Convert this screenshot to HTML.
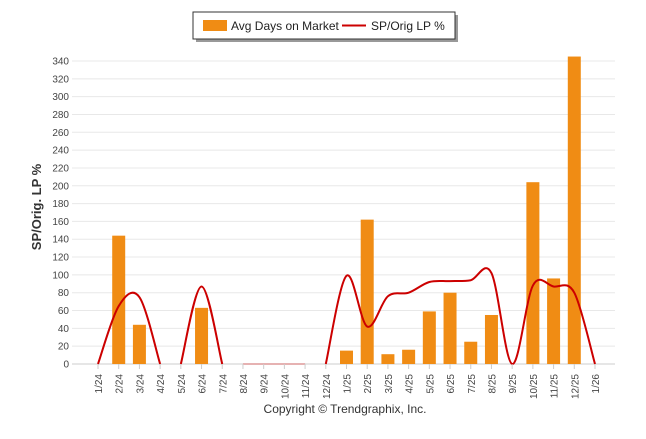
<!DOCTYPE html>
<html><head><meta charset="utf-8"><style>
body{margin:0;background:#fff;width:646px;height:434px;overflow:hidden;font-family:"Liberation Sans",sans-serif}
svg text{font-family:"Liberation Sans",sans-serif}
</style></head><body>
<svg id="c" width="646" height="434">
<g>
<rect x="196" y="15" width="262" height="27" fill="#999"/>
<rect x="193" y="12" width="262" height="27" fill="#fff" stroke="#333" stroke-width="1"/>
<rect x="203" y="20" width="24" height="11" fill="#F08C14"/>
<text x="231" y="30" font-size="12" fill="#222">Avg Days on Market</text>
<line x1="342" y1="25.5" x2="366" y2="25.5" stroke="#cc0000" stroke-width="2"/>
<text x="371" y="30" font-size="12" fill="#222">SP/Orig LP %</text>
</g>
<text transform="translate(41,207) rotate(-90)" text-anchor="middle" font-size="13" font-weight="bold" fill="#333">SP/Orig. LP %</text>
<text x="345" y="413" text-anchor="middle" font-size="12" fill="#333">Copyright © Trendgraphix, Inc.</text>
<g id="grid"></g><g id="bars"></g><g id="lines"></g><g id="axes"></g>
</svg>
<script>
const categories=["1/24","2/24","3/24","4/24","5/24","6/24","7/24","8/24","9/24","10/24","11/24","12/24","1/25","2/25","3/25","4/25","5/25","6/25","7/25","8/25","9/25","10/25","11/25","12/25","1/26"];
const daysOnMarket=[0,144,44,0,0,63,0,0,0,0,0,0,15,162,11,16,59,80,25,55,0,204,96,345,0];
const spOrigLP=[0,65,75,0,0,87,0,0,0,0,0,0,99,42,76,80,92,93,94,102,0,88,87,80,0];
const lineSegments=[[0,3],[4,6],[11,24]];
const flatSegment=[7,10];
const yTicks=[0,20,40,60,80,100,120,140,160,180,200,220,240,260,280,300,320,340];
const NS="http://www.w3.org/2000/svg";
const X0=98,X1=595,Y0=364,Y340=61;
const x=i=>X0+(X1-X0)*i/(categories.length-1);
const y=v=>Y0-(Y0-Y340)*v/340;
function mk(t,a,p){const e=document.createElementNS(NS,t);for(const k in a)e.setAttribute(k,a[k]);p.appendChild(e);return e;}
const grid=document.getElementById('grid'),bars=document.getElementById('bars'),lines=document.getElementById('lines'),axes=document.getElementById('axes');
yTicks.forEach(t=>{
 const l=mk('line',{x1:72,x2:615,y1:y(t),y2:y(t),stroke:t===0?'#ccc':'#e8e8e8','stroke-width':1},grid);
 
 
 const tx=mk('text',{x:69,y:y(t)+3.5,'text-anchor':'end','font-size':10,fill:'#444'},axes);
 tx.textContent=t;
 
 
});
categories.forEach((c,i)=>{
 const tk=mk('line',{x1:x(i),x2:x(i),y1:Y0,y2:Y0+5,stroke:'#ccc'},axes);
 
 
 const tx=mk('text',{transform:`translate(${x(i)+4},${Y0+10}) rotate(-90)`,'text-anchor':'end','font-size':10,fill:'#444'},axes);
 tx.textContent=c;
 
 
 const v=daysOnMarket[i];
 if(v>0){
  const r=mk('rect',{x:x(i)-6.5,y:y(v),width:13,height:Y0-y(v),fill:'#F08C14'},bars);
  
  
 }
});
const fl=mk('line',{x1:x(flatSegment[0]),x2:x(flatSegment[1]),y1:Y0,y2:Y0,stroke:'#cc6666','stroke-width':1},lines);


lineSegments.forEach(([a,b])=>{
 const P=[];for(let i=a;i<=b;i++)P.push([x(i),y(spOrigLP[i])]);
 let d=`M${P[0][0]},${P[0][1]}`;
 for(let i=0;i<P.length-1;i++){
  const p0=P[Math.max(0,i-1)],p1=P[i],p2=P[i+1],p3=P[Math.min(P.length-1,i+2)];
  const c1=[p1[0]+(p2[0]-p0[0])/6,p1[1]+(p2[1]-p0[1])/6],c2=[p2[0]-(p3[0]-p1[0])/6,p2[1]-(p3[1]-p1[1])/6];
  d+=` C${c1[0]},${c1[1]} ${c2[0]},${c2[1]} ${p2[0]},${p2[1]}`;
 }
 const pth=mk('path',{d:d,fill:'none',stroke:'#cc0000','stroke-width':2},lines);
 
 
});
</script>
</body></html>
